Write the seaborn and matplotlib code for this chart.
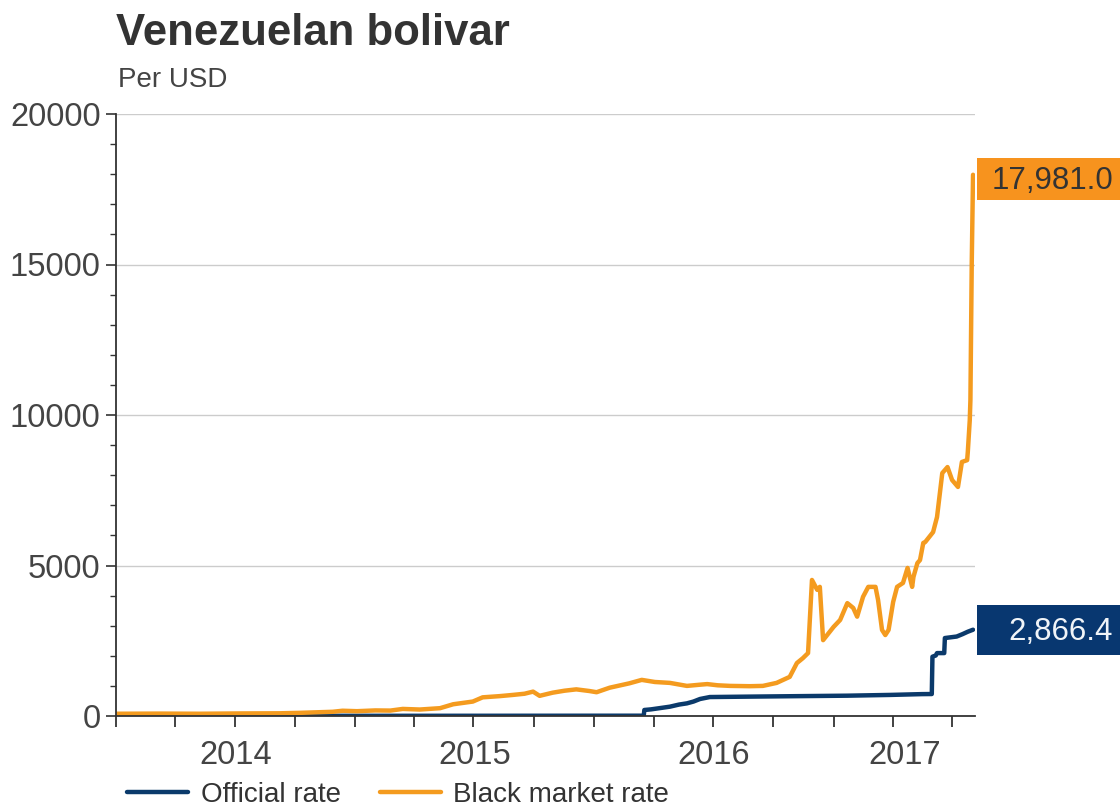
import matplotlib
matplotlib.use("Agg")
import matplotlib.pyplot as plt
import matplotlib.dates as mdates
import matplotlib.ticker as mticker
import matplotlib.transforms as mtransforms
from matplotlib.lines import Line2D
from matplotlib.patches import Rectangle
import pandas as pd
import seaborn as sns

# ---------------- data ----------------
official_dates = [
    "2014-01-01", "2015-03-01", "2016-03-17", "2016-03-18", "2016-03-28",
    "2016-04-10", "2016-04-26", "2016-05-10", "2016-05-22", "2016-06-01",
    "2016-06-11", "2016-06-26", "2016-08-31", "2016-11-10", "2017-01-22",
    "2017-03-28", "2017-05-16", "2017-05-31", "2017-06-01", "2017-06-06",
    "2017-06-08", "2017-06-19", "2017-06-20", "2017-07-08", "2017-07-17",
    "2017-07-25", "2017-08-02",
]
official_values = [
    6.3, 6.3, 10.0, 200, 220,
    260, 310, 380, 420, 480,
    565, 630, 645, 660, 675,
    700, 727, 730, 1970, 2010,
    2090, 2090, 2590, 2640, 2720,
    2800, 2866.4,
]

black_dates = [
    "2014-01-01", "2014-03-08", "2014-05-09", "2014-07-09", "2014-09-08",
    "2014-10-09", "2014-11-28", "2014-12-13", "2015-01-04", "2015-02-01",
    "2015-02-24", "2015-03-15", "2015-04-10", "2015-05-11", "2015-05-31",
    "2015-06-30", "2015-07-15", "2015-08-10", "2015-08-30", "2015-09-17",
    "2015-09-30", "2015-10-10", "2015-10-30", "2015-11-17", "2015-12-05",
    "2015-12-25", "2016-01-05", "2016-01-25", "2016-02-24", "2016-03-14",
    "2016-04-03", "2016-04-26", "2016-05-22", "2016-06-11", "2016-06-22",
    "2016-07-08", "2016-07-27", "2016-08-26", "2016-09-15", "2016-10-06",
    "2016-10-26", "2016-11-06", "2016-11-15", "2016-11-23", "2016-11-29",
    "2016-12-07", "2016-12-11", "2016-12-16", "2017-01-01", "2017-01-11",
    "2017-01-22", "2017-01-31", "2017-02-06", "2017-02-15", "2017-02-23",
    "2017-03-06", "2017-03-10", "2017-03-16", "2017-03-21", "2017-03-26",
    "2017-04-02", "2017-04-08", "2017-04-17", "2017-04-24", "2017-05-01",
    "2017-05-03", "2017-05-09", "2017-05-13", "2017-05-18", "2017-05-21",
    "2017-06-02", "2017-06-08", "2017-06-16", "2017-06-24", "2017-07-01",
    "2017-07-10", "2017-07-16", "2017-07-24", "2017-07-25", "2017-07-28",
    "2017-07-29", "2017-07-31", "2017-08-02",
]
black_values = [
    75, 80, 75, 85, 90,
    105, 140, 175, 160, 185,
    180, 235, 215, 260, 390,
    480, 620, 660, 700, 740,
    810, 670, 775, 840, 885,
    830, 790, 940, 1085, 1200,
    1130, 1100, 1000, 1040, 1060,
    1020, 1000, 990, 1000, 1100,
    1300, 1760, 1920, 2090, 4520,
    4190, 4290, 2520, 2960, 3190,
    3750, 3590, 3300, 3960, 4290,
    4290, 3850, 2860, 2690, 2860,
    3790, 4290, 4420, 4920, 4290,
    4620, 5080, 5180, 5750, 5780,
    6110, 6610, 8070, 8270, 7840,
    7610, 8440, 8500, 8770, 9830,
    10500, 15000, 17981.0,
]

series_names = ["Official rate", "Black market rate"]
y_ticks = [0, 5000, 10000, 15000, 20000]
x_start, x_end = "2014-01-01", "2017-08-05"
years = [2014, 2015, 2016, 2017]

NAVY = "#0B3A6B"
ORANGE = "#F49B1F"
NAVY_BOX = "#083770"
ORANGE_BOX = "#F7931E"

df = pd.concat([
    pd.DataFrame({"date": pd.to_datetime(official_dates), "value": official_values,
                  "series": series_names[0]}),
    pd.DataFrame({"date": pd.to_datetime(black_dates), "value": black_values,
                  "series": series_names[1]}),
], ignore_index=True)

# ---------------- plot ----------------
sns.set_theme(style="white")
plt.rcParams["font.family"] = ["Liberation Sans", "DejaVu Sans"]

W, H = 1120, 808
fig = plt.figure(figsize=(W / 100, H / 100), dpi=100)
ax_left, ax_right, ax_top, ax_bottom = 116, 975, 114, 716
ax = fig.add_axes([ax_left / W, 1 - ax_bottom / H, (ax_right - ax_left) / W,
                   (ax_bottom - ax_top) / H])

sns.lineplot(data=df, x="date", y="value", hue="series", hue_order=series_names,
             palette={series_names[0]: NAVY, series_names[1]: ORANGE},
             estimator=None, linewidth=3.2, ax=ax, legend=False)

xs, xe = pd.Timestamp(x_start), pd.Timestamp(x_end)
ax.set_xlim(xs, xe)
ax.set_ylim(y_ticks[0], y_ticks[-1])
ax.set_xlabel("")
ax.set_ylabel("")

# x axis: quarterly ticks, year labels centred in the visible part of each year
ax.xaxis.set_major_locator(mdates.MonthLocator(bymonth=[1, 4, 7, 10]))
ax.xaxis.set_major_formatter(mticker.NullFormatter())
mids = []
for y in years:
    a = max(pd.Timestamp(f"{y}-01-01"), xs)
    b = min(pd.Timestamp(f"{y + 1}-01-01"), xe)
    mids.append(a + (b - a) / 2)
ax.set_xticks(mids, labels=[str(y) for y in years], minor=True)
ax.xaxis.remove_overlapping_locs = False
ax.tick_params(axis="x", which="major", direction="out", length=8, width=1.3,
               color="#333333", bottom=True)
ax.tick_params(axis="x", which="minor", length=0, pad=17, labelsize=23.5,
               labelcolor="#444444", bottom=True)

# y axis
ax.set_yticks(y_ticks)
ax.yaxis.set_major_formatter(mticker.FuncFormatter(lambda v, p: f"{int(v)}"))
ax.yaxis.set_minor_locator(mticker.MultipleLocator(1000))
ax.tick_params(axis="y", which="major", direction="out", length=7, width=1.2,
               color="#333333", left=True, labelsize=23.5, labelcolor="#444444", pad=4)
ax.tick_params(axis="y", which="minor", direction="out", length=4, width=1.0,
               color="#333333", left=True)

ax.yaxis.grid(True, color="#cccccc", linewidth=1)
ax.xaxis.grid(False)
for s in ["top", "right"]:
    ax.spines[s].set_visible(False)
for s in ["left", "bottom"]:
    ax.spines[s].set_color("#333333")
    ax.spines[s].set_linewidth(1.3)

# end-value labels: fixed-width boxes to the right edge, text right-aligned
units_per_px = (y_ticks[-1] - y_ticks[0]) / (ax_bottom - ax_top)
trans = mtransforms.blended_transform_factory(fig.transFigure, ax.transData)
box_left = 977 / W
text_right = 1113 / W
for val, fc, tc, hpx, shift in [(black_values[-1], ORANGE_BOX, "#333333", 42, 4),
                                (official_values[-1], NAVY_BOX, "#F0F4F8", 50, 0)]:
    h = hpx * units_per_px
    c = val - shift * units_per_px
    fig.add_artist(Rectangle((box_left, c - h / 2), 1.0 - box_left + 0.01, h,
                             transform=trans, fc=fc, ec="none", clip_on=False))
    fig.text(text_right, c - 2.5 * units_per_px, f"{val:,.1f}", transform=trans,
             ha="right", va="center", fontsize=22.5, color=tc)

# titles
fig.text(116 / W, 1 - 13 / H, "Venezuelan bolivar", fontsize=31.5, fontweight="bold",
         color="#333333", ha="left", va="top")
fig.text(118 / W, 1 - 67 / H, "Per USD", fontsize=20, color="#444444",
         ha="left", va="top")

# legend
handles = [Line2D([], [], color=NAVY, lw=3.2), Line2D([], [], color=ORANGE, lw=3.2)]
leg = fig.legend(handles, series_names, loc="center left",
                 bbox_to_anchor=(127 / W, 1 - 795 / H), ncol=2, frameon=False,
                 fontsize=20, handlelength=2.2, handletextpad=0.45, columnspacing=1.4,
                 borderpad=0, borderaxespad=0)
for t in leg.get_texts():
    t.set_color("#333333")

fig.savefig("out.png", dpi=100)
